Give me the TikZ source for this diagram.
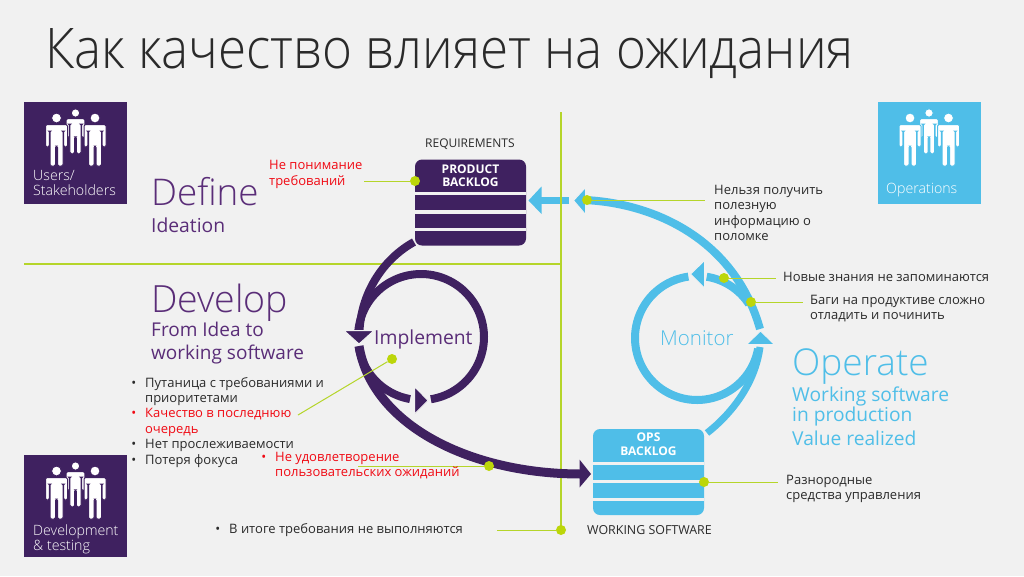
\documentclass[tikz,border=0pt]{standalone}
\usepackage{graphicx}
\usepackage{fontspec}
\setmainfont{Open Sans}[UprightFont=* Light,BoldFont=Open Sans Bold]
\newfontfamily\regf{Open Sans}
\definecolor{bgc}{HTML}{F1F1F1}
\definecolor{purp}{HTML}{3F2160}
\definecolor{purt}{HTML}{5A2D78}
\definecolor{blu}{HTML}{4FBEE8}
\definecolor{grn}{HTML}{B5D52A}
\definecolor{dotg}{HTML}{BCD60A}
\definecolor{ink}{HTML}{2A2A2A}
\definecolor{redt}{HTML}{F00A14}
\newcommand{\fz}[2]{\fontsize{#1}{#2}\selectfont}
\newcommand{\bul}{\leavevmode\llap{•\hspace{9pt}}}
\tikzset{
 txt/.style={anchor=north west,inner sep=0pt,align=left,text=ink,font=\regf\fz{13}{15.4}},
 redtxt/.style={txt,text=redt},
 head/.style={anchor=base west,inner sep=0pt,text=purt},
 headb/.style={anchor=base west,inner sep=0pt,text=blu},
 gline/.style={draw=grn,line width=1.6pt},
 lead/.style={draw=grn,line width=1pt},
 gdot/.style={circle,fill=dotg,inner sep=0pt,minimum size=10pt},
 box/.style={rectangle,minimum width=103pt,minimum height=102pt,inner sep=0pt},
 blog/.style={rectangle,rounded corners=7pt,minimum width=111pt,minimum height=86pt,inner sep=0pt},
 blabel/.style={inner sep=0pt,align=center,text=white,font=\fz{12}{13.5}\bfseries},
 captxt/.style={anchor=north west,inner sep=0pt,align=left,text=white,font=\fz{14.2}{15.5}},
 fig/.pic={
  \fill[white,draw=#1,line width=1pt] (0,0) circle (5);
  \fill[white,draw=#1,line width=1pt,rounded corners=1.5pt] (-11,6.5)--(11,6.5)--(11,29)--(7.2,29)--(7.2,13)--(6.5,13)--(6.5,48)--(1,48)--(1,28)--(-1,28)--(-1,48)--(-6.5,48)--(-6.5,13)--(-7.2,13)--(-7.2,29)--(-11,29)--cycle;
 },
 flowp/.style={draw=purp,line width=8pt},
 flowb/.style={draw=blu,line width=8pt},
}
\newcommand{\trio}[3]{%
 \pic[scale=0.85] at (#1+51.5,#2+11) {fig=#3};
 \pic at (#1+32.5,#2+16) {fig=#3};
 \pic at (#1+71,#2+16) {fig=#3};
}
\begin{document}
\begin{tikzpicture}[x=1pt,y=-1pt]
\useasboundingbox (0,0) rectangle (1024,576);
\fill[bgc] (0,0) rectangle (1024,576);

\node[anchor=base west,inner sep=0pt,text=ink,font=\fz{56}{56}] (title) at (45,68) {\scalebox{0.913}[1]{Как качество влияет на ожидания}};

% boxes
\node[box,fill=purp] (users) at (75.5,153) {};
\node[box,fill=blu] (ops) at (929,153) {};
\node[box,fill=purp] (dev) at (75.5,506) {};
\trio{24}{102}{purp}
\trio{877.5}{102}{blu}
\trio{24}{455}{purp}
\node[captxt] (usert) at (33,170) {Users/\\Stakeholders};
\node[captxt] (opst) at (886,183) {Operations};
\node[captxt] (devt) at (33,524.5) {Development\\\& testing};

% blue flows under green line
\coordinate (ba) at (569,200.5);
\coordinate (bb) at (540,200.5);
\draw[flowb,line width=6.5pt] (ba) -- (bb);

% green frame
\coordinate (vt) at (561,112);
\coordinate (vb) at (561,530);
\coordinate (hl) at (24,264);
\coordinate (hr) at (561,264);
\draw[gline] (vt) -- (vb);
\draw[gline] (hl) -- (hr);

% backlogs
\node[blog,fill=purp] (pb) at (470.5,202.5) {};
\node[blog,fill=blu] (ob) at (648.5,472) {};
\foreach \yy in {193.5,212,229.5} \fill[bgc] (pb.west |- 0,\yy-1.7) rectangle (pb.east |- 0,\yy+1.7);
\foreach \yy in {463.5,481.5,499.5} \fill[bgc] (ob.west |- 0,\yy-1.7) rectangle (ob.east |- 0,\yy+1.7);
\node[blabel] (pbl) at (470.5,175.5) {PRODUCT\\BACKLOG};
\node[blabel] (obl) at (648.5,444) {OPS\\BACKLOG};

% purple flows
\coordinate (p1) at (414,242);
\coordinate (p2) at (359.5,330);
\coordinate (p3) at (359,346);
\coordinate (p4) at (581,474);
\draw[flowp] plot[domain=81:-177,samples=80] ({421+63*cos(\x)},{337+63*sin(\x)});
\draw[flowp] plot[domain=170:100,samples=40] ({421+63*cos(\x)},{337+63*sin(\x)});
\draw[flowp] (p1) .. controls (385,258) and (362,290) .. (p2);
\draw[flowp,line width=9pt] (p3) .. controls (372,425) and (470,474) .. (p4);
\fill[purp,draw=bgc,line width=1pt] (344,330.5)--(374,330.5)--(359,344)--cycle;
\fill[purp,draw=bgc,line width=1pt] (414.5,386.5)--(414.5,414)--(428,400.5)--cycle;
\fill[purp] (579.5,459.5)--(579.5,487.5)--(591,474)--cycle;

% blue flows
\coordinate (b1) at (760,329);
\coordinate (b2) at (584,200);
\coordinate (b3) at (707,433);
\coordinate (b4) at (760,347);
\draw[flowb] plot[domain=-98:-350,samples=80] ({697+62*cos(\x)},{338+62*sin(\x)});
\draw[flowb] plot[domain=-81:-33,samples=30] ({697+62*cos(\x)},{338+62*sin(\x)});
\draw[flowb] (b1) .. controls (735,240) and (655,203) .. (b2);
\draw[flowb,line width=7pt] (b3) .. controls (730,415) and (755,385) .. (b4);
\fill[blu,draw=bgc,line width=1pt] (746.5,344.5)--(774.5,344.5)--(760.5,331)--cycle;
\fill[blu,draw=bgc,line width=1pt] (704.5,260.5)--(704.5,288)--(690.5,274)--cycle;
\fill[blu,draw=bgc,line width=1pt] (585.5,187.5)--(585.5,214.5)--(573.5,200.5)--cycle;
\fill[blu] (541.5,186.5)--(541.5,214)--(528.5,200.5)--cycle;

% dots and leaders
\node[gdot] (d1) at (415,181) {};
\node[gdot] (d2) at (392,359) {};
\node[gdot] (d3) at (489,466) {};
\node[gdot] (d4) at (561,530) {};
\node[gdot] (d5) at (587,200) {};
\node[gdot] (d6) at (724,278) {};
\node[gdot] (d7) at (751,302) {};
\node[gdot] (d8) at (704,482) {};
\coordinate (l1) at (364,181);
\coordinate (l2) at (298,415);
\coordinate (l3) at (358,466);
\coordinate (l4) at (497,530);
\coordinate (l5) at (705,200);
\coordinate (l6) at (776,278);
\coordinate (l7) at (803,302);
\coordinate (l8) at (778,482);
\foreach \a/\b in {d1/l1,d2/l2,d3/l3,d4/l4,d5/l5,d6/l6,d7/l7,d8/l8} \draw[lead] (\a) -- (\b);

% texts
\node[redtxt,font=\regf\fz{13}{16}] (t1) at (269,160) {Не понимание\\требований};
\node[txt,font=\regf\fz{12}{14}] (req) at (425,138.5) {REQUIREMENTS};
\node[txt,font=\regf\fz{12.4}{14}] (ws) at (587,525) {WORKING SOFTWARE};
\node[head,font=\fz{36.8}{38}] (def) at (151,205) {Define};
\node[head,font=\regf\fz{19.3}{20}] (idea) at (151,232) {Ideation};
\node[head,font=\fz{37.5}{38}] (deve) at (151,312) {Develop};
\node[head,font=\regf\fz{19}{23},align=left,anchor=north west] (fi) at (151,322) {From Idea to\\working software};
\node[head,font=\regf\fz{19.3}{20}] (impl) at (374,344) {Implement};
\node[txt] (lst) at (145,377) {\bul Путаница с требованиями и\\приоритетами\\\textcolor{redt}{\bul Качество в последнюю}\\\textcolor{redt}{очередь}\\\bul Нет прослеживаемости\\\bul Потеря фокуса};
\node[redtxt] (nu) at (275,452) {\bul Не удовлетворение\\пользовательских ожиданий};
\node[txt] (itog) at (229,523) {\bul В итоге требования не выполняются};
\node[headb,font=\fz{20.5}{21}] (mon) at (660,345) {Monitor};
\node[headb,font=\fz{37}{37}] (oper) at (792,375) {Operate};
\node[headb,font=\regf\fz{19.2}{20}] (w1) at (792,401) {Working software};
\node[headb,font=\regf\fz{19.2}{20}] (w2) at (792,421) {in production};
\node[headb,font=\regf\fz{19.2}{20}] (w3) at (792,445) {Value realized};
\node[txt] (nz) at (714,185) {Нельзя получить\\полезную\\информацию о\\поломке};
\node[txt] (nov) at (783,272) {Новые знания не запоминаются};
\node[txt] (bag) at (810,295) {Баги на продуктиве сложно\\отладить и починить};
\node[txt] (raz) at (786,475) {Разнородные\\средства управления};
\end{tikzpicture}
\end{document}
